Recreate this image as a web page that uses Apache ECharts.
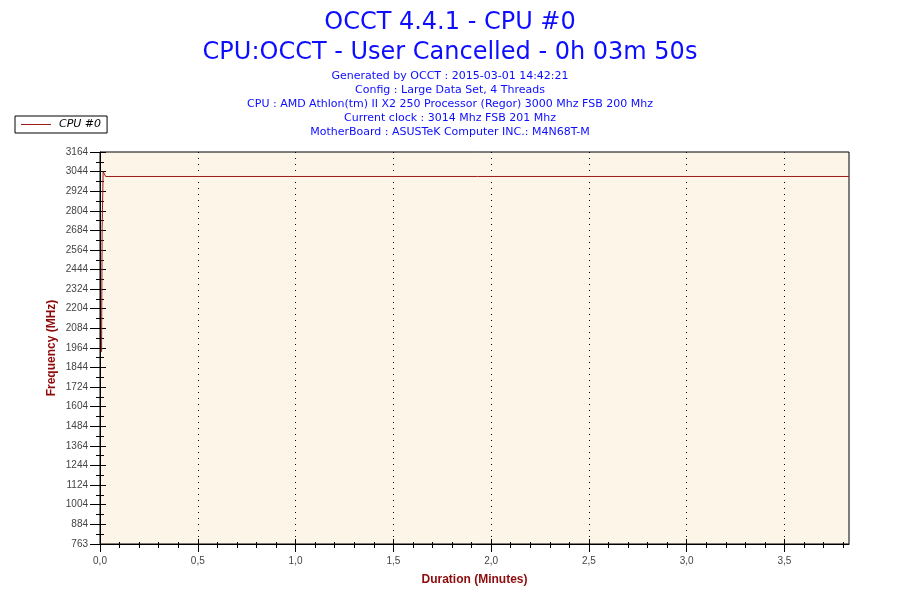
<!DOCTYPE html>
<html>
<head>
<meta charset="utf-8">
<script src="https://cdn.jsdelivr.net/npm/echarts@6/dist/echarts.min.js"></script>
<style>
html, body { margin: 0; padding: 0; background: #fff; }
#chartmain { width: 900px; height: 600px; }
</style>
</head>
<body>
<div id="chartmain"></div>
<script>
// duration in minutes, clock in MHz
var minutes = [0.008, 0.011, 0.016, 0.024, 0.029, 3.83];
var clockMhz = [1940, 2700, 3044, 3044, 3014, 3014];

var xTicks = [0, 0.5, 1.0, 1.5, 2.0, 2.5, 3.0, 3.5];
var xTickLabels = ['0,0', '0,5', '1,0', '1,5', '2,0', '2,5', '3,0', '3,5'];
var yTicks = [763, 884, 1004, 1124, 1244, 1364, 1484, 1604, 1724, 1844, 1964,
	2084, 2204, 2324, 2444, 2564, 2684, 2804, 2924, 3044, 3164];
var yTickLabels = ['763', '884', '1004', '1124', '1244', '1364', '1484', '1604', '1724', '1844', '1964',
	'2084', '2204', '2324', '2444', '2564', '2684', '2804', '2924', '3044', '3164'];
var infoLines = [
	'Generated by OCCT : 2015-03-01 14:42:21',
	'Config : Large Data Set, 4 Threads',
	'CPU : AMD Athlon(tm) II X2 250 Processor (Regor) 3000 Mhz FSB 200 Mhz',
	'Current clock : 3014 Mhz FSB 201 Mhz',
	'MotherBoard : ASUSTeK Computer INC.: M4N68T-M'
];

// minor ticks halfway between the labelled ones
var xMinor = [];
for (var i = 1; i <= 38; i++) {
	if (i % 5 != 0) xMinor.push(i / 10);
}
var yMinor = [];
for (var j = 1; j < yTicks.length; j++) {
	yMinor.push(yTicks[j] - 60);
}

var blue = '#0d0dff';
var darkRed = '#8e0b0b';
var lineRed = '#9e1b1b';
var lblFont = 'Liberation Sans, Arial, sans-serif';

function xAxisDef(ticks, len, inside, main) {
	return {
		type : 'value',
		position : 'bottom',
		min : 0,
		max : 3.83,
		name : main ? 'Duration (Minutes)' : '',
		nameLocation : 'middle',
		nameGap : 30,
		nameMoveOverlap : false,
		nameTextStyle : { color : darkRed, fontWeight : 'bold', fontSize : 12, fontFamily : lblFont },
		axisLine : { show : main, lineStyle : { color : '#000', width : 1 } },
		axisTick : { show : true, inside : inside, length : len, customValues : ticks,
			lineStyle : { color : '#000', width : 1 } },
		axisLabel : {
			show : main,
			customValues : xTicks,
			margin : 12,
			color : '#444',
			fontSize : 10,
			fontFamily : lblFont,
			formatter : function(v) {
				var k = xTicks.indexOf(v);
				return k >= 0 ? xTickLabels[k] : '';
			}
		},
		splitLine : { show : main, lineStyle : { color : '#000', type : [1, 5], width : 1 } }
	};
}

function yAxisDef(ticks, len, inside, main) {
	return {
		type : 'value',
		position : 'left',
		min : 763,
		max : 3164,
		name : main ? 'Frequency (MHz)' : '',
		nameLocation : 'middle',
		nameGap : 42,
		nameMoveOverlap : false,
		nameTextStyle : { color : darkRed, fontWeight : 'bold', fontSize : 12, fontFamily : lblFont },
		axisLine : { show : main, lineStyle : { color : '#000', width : 1 } },
		axisTick : { show : true, inside : inside, length : len, customValues : ticks,
			lineStyle : { color : '#000', width : 1 } },
		axisLabel : {
			show : main,
			customValues : yTicks,
			margin : 12,
			color : '#444',
			fontSize : 10,
			fontFamily : lblFont,
			formatter : function(v) {
				var k = yTicks.indexOf(v);
				return k >= 0 ? yTickLabels[k] : '';
			}
		},
		splitLine : { show : false }
	};
}

var data = [];
for (var n = 0; n < minutes.length; n++) {
	data.push([minutes[n], clockMhz[n]]);
}

var titles = [ {
	text : 'OCCT 4.4.1 - CPU #0',
	left : 'center',
	top : 6,
	textStyle : { color : blue, fontSize : 24, fontWeight : 'normal', fontFamily : 'DejaVu Sans' }
}, {
	text : 'CPU:OCCT - User Cancelled - 0h 03m 50s',
	left : 'center',
	top : 36,
	textStyle : { color : blue, fontSize : 24, fontWeight : 'normal', fontFamily : 'DejaVu Sans' }
} ];
for (var t = 0; t < infoLines.length; t++) {
	titles.push({
		text : infoLines[t],
		left : 'center',
		top : 71 + t * 14,
		padding : 0,
		textStyle : { color : blue, fontSize : 11, fontWeight : 'normal', fontFamily : 'DejaVu Sans' }
	});
}

var option = {
	animation : false,
	backgroundColor : '#fff',
	title : titles,
	legend : {
		left : 15,
		top : 116,
		padding : [3, 6, 3, 6],
		itemWidth : 30,
		itemHeight : 1,
		itemGap : 5,
		borderColor : '#000',
		borderWidth : 1,
		backgroundColor : '#fff',
		textStyle : { fontStyle : 'italic', fontSize : 11, color : '#000', fontFamily : 'DejaVu Sans', padding : [0, 0, 0, 3] },
		data : [ { name : 'CPU #0', icon : 'rect', itemStyle : { color : lineRed } } ]
	},
	grid : {
		left : 100,
		right : 51,
		top : 152,
		bottom : 56,
		show : true,
		backgroundColor : '#fdf6e8',
		borderColor : '#000',
		borderWidth : 1
	},
	xAxis : [
		xAxisDef(xTicks, 8, false, true),
		xAxisDef(xTicks, 5, true, false),
		xAxisDef(xMinor, 4, false, false),
		xAxisDef(xMinor, 2, true, false)
	],
	yAxis : [
		yAxisDef(yTicks, 10, false, true),
		yAxisDef(yTicks, 6, true, false),
		yAxisDef(yMinor, 4, false, false),
		yAxisDef(yMinor, 4, true, false)
	],
	series : [ {
		name : 'CPU #0',
		type : 'line',
		xAxisIndex : 0,
		yAxisIndex : 0,
		symbol : 'none',
		z : 10,
		lineStyle : { color : lineRed, width : 1 },
		itemStyle : { color : lineRed },
		data : data
	} ]
};

var myChart = echarts.init(document.getElementById('chartmain'));
myChart.setOption(option);
</script>
</body>
</html>
